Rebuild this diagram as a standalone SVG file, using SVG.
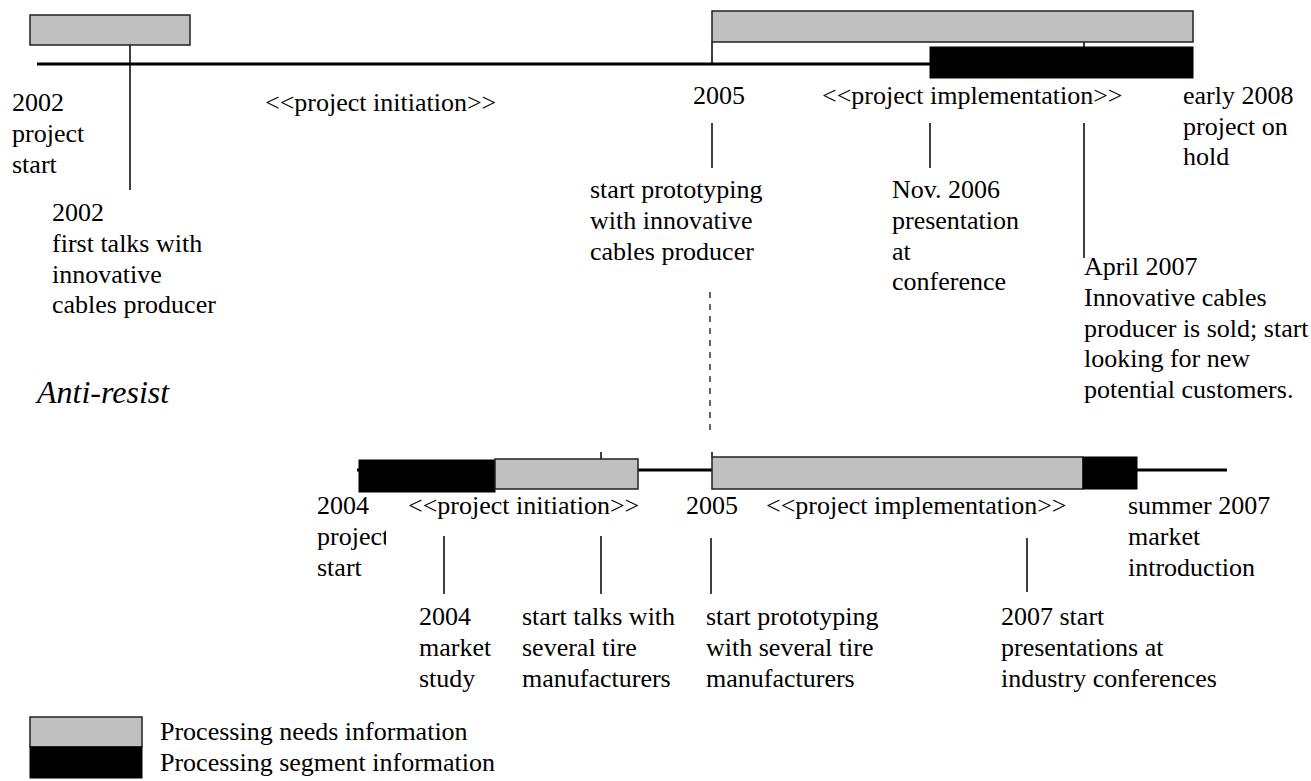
<svg xmlns="http://www.w3.org/2000/svg" width="1311" height="781" viewBox="0 0 1311 781">
<style>
text{font-family:"Liberation Serif","Times New Roman",serif;font-size:26px;fill:#000}
.it{font-style:italic;font-size:32px}
.axis{stroke:#000;stroke-width:3;fill:none}
.tick{stroke:#000;stroke-width:1.5;fill:none}
.dash{stroke:#000;stroke-width:1.2;stroke-dasharray:6 6;fill:none}
.needs{fill:#c0c0c0;stroke:#222;stroke-width:1.5}
.seg{fill:#000;stroke:#000;stroke-width:1}
</style>
<defs>
<clipPath id="clipStart"><rect x="0" y="490" width="386" height="100"/></clipPath>
</defs>
<rect width="1311" height="781" fill="#fff"/>

<g id="connectors">
<line class="axis" x1="37" y1="64" x2="1133" y2="64"/>
<line class="axis" x1="357" y1="470" x2="1227" y2="470"/>
<line class="tick" x1="130" y1="45" x2="130" y2="190"/>
<line class="tick" x1="712" y1="42" x2="712" y2="64"/>
<line class="tick" x1="1084" y1="42" x2="1084" y2="47"/>
<line class="tick" x1="712" y1="123" x2="712" y2="168"/>
<line class="tick" x1="930" y1="123" x2="930" y2="168"/>
<line class="tick" x1="1084" y1="123" x2="1084" y2="258"/>
<line class="dash" x1="710" y1="292" x2="710" y2="435"/>
<line class="tick" x1="601" y1="452" x2="601" y2="459"/>
<line class="tick" x1="712" y1="452" x2="712" y2="457"/>
<line class="tick" x1="444" y1="536" x2="444" y2="594"/>
<line class="tick" x1="601" y1="536" x2="601" y2="594"/>
<line class="tick" x1="711" y1="538" x2="711" y2="594"/>
<line class="tick" x1="1027" y1="538" x2="1027" y2="592"/>
</g>

<g id="top-bars">
<rect class="needs" x="30" y="15" width="160" height="30"/>
<rect class="needs" x="712" y="11" width="481" height="31"/>
<rect class="seg" x="930" y="47" width="263" height="31"/>
</g>

<g id="top-labels">
<text x="12" y="111">2002</text>
<text x="12" y="142">project</text>
<text x="12" y="173">start</text>
<text x="265" y="111">&lt;&lt;project initiation&gt;&gt;</text>
<text x="693" y="104">2005</text>
<text x="822" y="104">&lt;&lt;project implementation&gt;&gt;</text>
<text x="1183" y="104">early 2008</text>
<text x="1183" y="135">project on</text>
<text x="1183" y="165">hold</text>
</g>

<g id="event-first-talks">
<text x="52" y="221">2002</text>
<text x="52" y="252">first talks with</text>
<text x="52" y="283">innovative</text>
<text x="52" y="313">cables producer</text>
</g>
<g id="event-prototyping-cables">
<text x="590" y="198">start prototyping</text>
<text x="590" y="229">with innovative</text>
<text x="590" y="260">cables producer</text>
</g>
<g id="event-nov-2006">
<text x="892" y="198">Nov. 2006</text>
<text x="892" y="229">presentation</text>
<text x="892" y="260">at</text>
<text x="892" y="290">conference</text>
</g>
<g id="event-april-2007">
<text x="1084" y="275">April 2007</text>
<text x="1084" y="306">Innovative cables</text>
<text x="1084" y="337">producer is sold; start</text>
<text x="1084" y="367">looking for new</text>
<text x="1084" y="398">potential customers.</text>
</g>

<g id="title-anti-resist">
<text class="it" x="37" y="403">Anti-resist</text>
</g>

<g id="bottom-bars">
<rect class="seg" x="359" y="460" width="136" height="32"/>
<rect class="needs" x="495" y="459" width="143" height="30"/>
<rect class="needs" x="712" y="457" width="371" height="32"/>
<rect class="seg" x="1083" y="457" width="54" height="32"/>
</g>

<g id="bottom-labels">
<text x="317" y="514">2004</text>
<g clip-path="url(#clipStart)">
<text x="317" y="545">project</text>
<text x="317" y="576">start</text>
</g>
<text x="408" y="514">&lt;&lt;project initiation&gt;&gt;</text>
<text x="686" y="514">2005</text>
<text x="766" y="514">&lt;&lt;project implementation&gt;&gt;</text>
<text x="1128" y="514">summer 2007</text>
<text x="1128" y="545">market</text>
<text x="1128" y="576">introduction</text>
</g>

<g id="event-market-study">
<text x="419" y="625">2004</text>
<text x="419" y="656">market</text>
<text x="419" y="687">study</text>
</g>
<g id="event-talks-tire">
<text x="522" y="625">start talks with</text>
<text x="522" y="656">several tire</text>
<text x="522" y="687">manufacturers</text>
</g>
<g id="event-prototyping-tire">
<text x="706" y="625">start prototyping</text>
<text x="706" y="656">with several tire</text>
<text x="706" y="687">manufacturers</text>
</g>
<g id="event-presentations">
<text x="1001" y="625">2007 start</text>
<text x="1001" y="656">presentations at</text>
<text x="1001" y="687">industry conferences</text>
</g>

<g id="legend">
<rect class="needs" x="30" y="717" width="112" height="30"/>
<rect class="seg" x="30" y="747" width="112" height="31"/>
<text x="160" y="740">Processing needs information</text>
<text x="160" y="771">Processing segment information</text>
</g>
</svg>
